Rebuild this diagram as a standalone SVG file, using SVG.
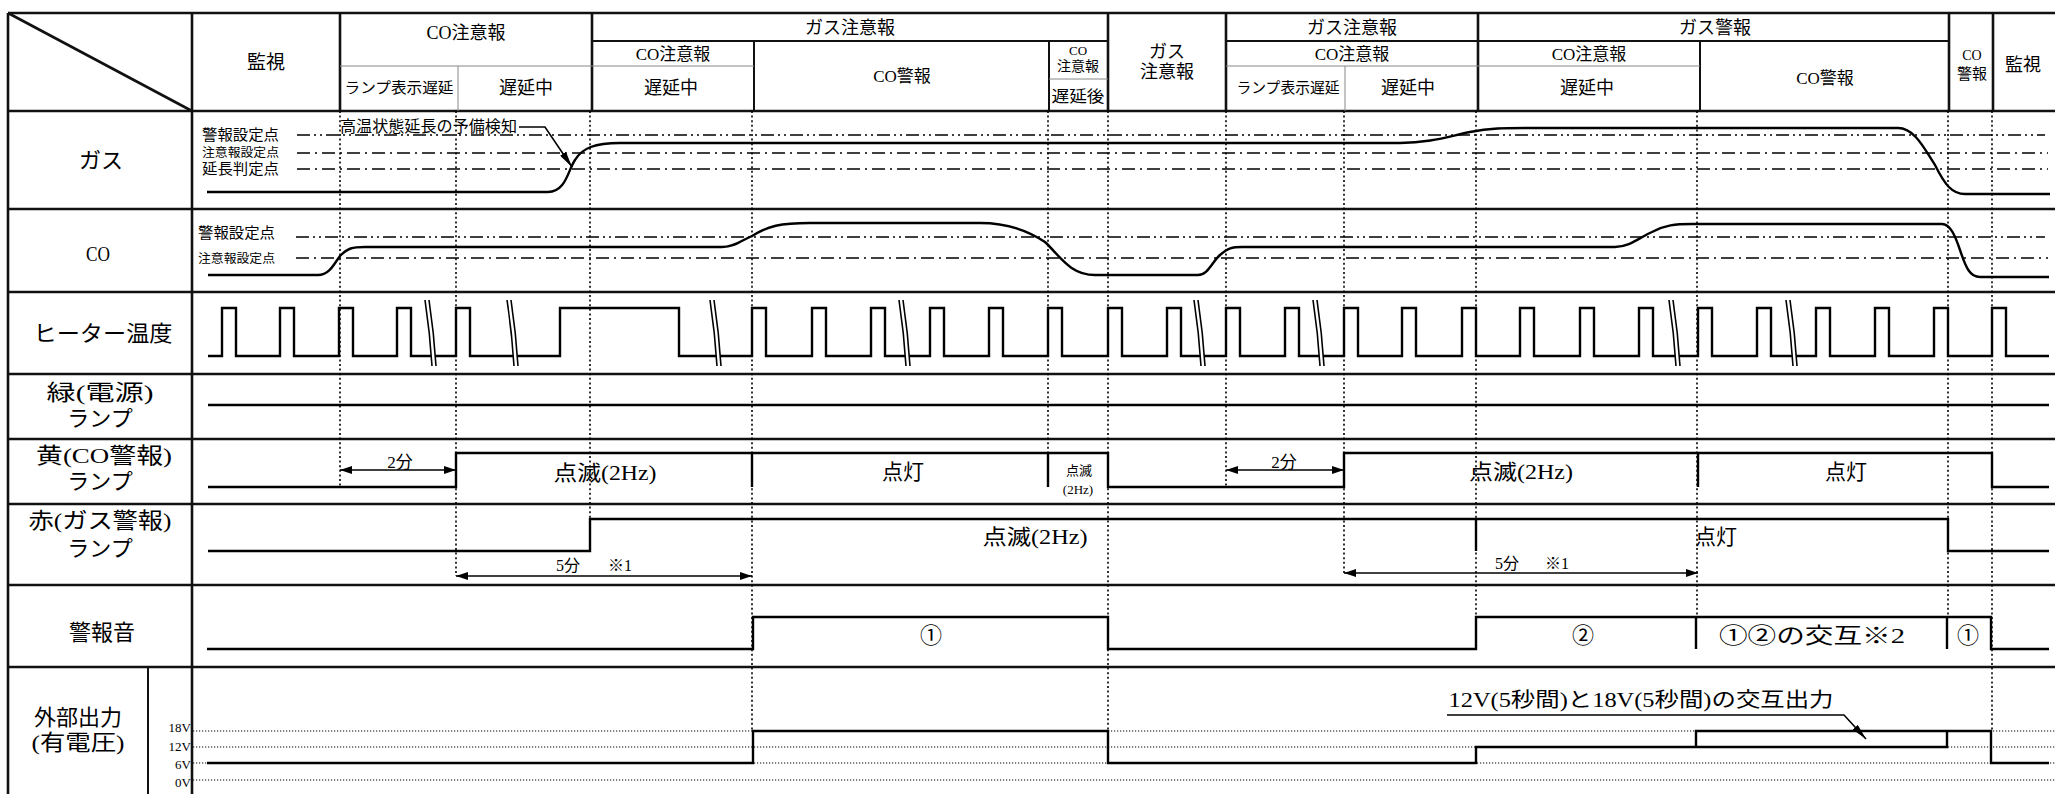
<svg xmlns="http://www.w3.org/2000/svg" width="2055" height="794" viewBox="0 0 2055 794">
<style>
.f{font-family:"Liberation Serif","Noto Sans CJK JP",serif;fill:#000;}
.c{text-anchor:middle;dominant-baseline:central;}
.s{text-anchor:start;dominant-baseline:central;}
.e{text-anchor:end;dominant-baseline:central;}
.b{stroke:#111;stroke-width:2.6;fill:none;}
.m{stroke:#111;stroke-width:2;fill:none;}
.t{stroke:#888;stroke-width:1;fill:none;}
.w{stroke:#000;stroke-width:2.4;fill:none;stroke-linejoin:miter;}
.d{stroke:#000;stroke-width:1.6;stroke-dasharray:2,2.6;fill:none;}
.r1{stroke:#000;stroke-width:1.5;stroke-dasharray:13,4,2,4,2,4;fill:none;}
.r2{stroke:#000;stroke-width:1.5;stroke-dasharray:13,5,2,5;fill:none;}
.v{stroke:#000;stroke-width:1.2;stroke-dasharray:1.2,1.8;fill:none;}
.a{stroke:#000;stroke-width:1.6;fill:none;}
.sl{stroke:#000;stroke-width:1.6;fill:none;}
</style>
<defs>
<marker id="ah" viewBox="0 0 12 8" refX="12" refY="4" markerWidth="12" markerHeight="8" markerUnits="userSpaceOnUse" orient="auto-start-reverse"><path d="M0,0 L12,4 L0,8 z" fill="#000"/></marker>
<marker id="ah2" viewBox="0 0 16 7" refX="16" refY="3.5" markerWidth="16" markerHeight="7" markerUnits="userSpaceOnUse" orient="auto"><path d="M0,0 L16,3.5 L0,7 z" fill="#000"/></marker>
<g id="brk"><path d="M-6,300 Q-1,333 1,366 L5,366 Q3,333 -2,300 Z" fill="#fff" stroke="none"/><path class="sl" d="M-6,300 Q-1,333 1,366 M-2,300 Q3,333 5,366"/></g>
</defs>
<rect width="2055" height="794" fill="#fff"/>

<g id="table">
<path class="b" d="M8,13 H2055 M8,111 H2055 M8,209 H2055 M8,292 H2055 M8,374 H2055 M8,439 H2055 M8,504 H2055 M8,585 H2055 M8,667 H2055"/>
<path class="b" d="M8,13 V794 M192,13 V794 M340,13 V111 M592,13 V111 M1108,13 V111 M1226,13 V111 M1478,13 V111 M1949,13 V111 M1993,13 V111"/>
<path class="m" d="M148,667 V794 M592,41 H1108 M1226,41 H1949 M754,41 V111 M1049,41 V111 M1700,41 V111"/>
<path class="t" d="M340,66 H754 M1226,66 H1700 M458,66 V111 M1345,66 V111 M1049,79 H1108"/>
<path class="b" d="M8,13 L192,111" stroke-width="3"/>
</g>

<g id="header">
<text class="f c" x="266" y="62" font-size="19">監視</text>
<text class="f c" x="466" y="33" font-size="18">CO注意報</text>
<text class="f c" x="399" y="88" font-size="15" textLength="109" lengthAdjust="spacingAndGlyphs">ランプ表示遅延</text>
<text class="f c" x="526" y="88" font-size="18">遅延中</text>
<text class="f c" x="850" y="28" font-size="18">ガス注意報</text>
<text class="f c" x="673" y="54" font-size="17">CO注意報</text>
<text class="f c" x="671" y="88" font-size="18">遅延中</text>
<text class="f c" x="902" y="76" font-size="17">CO警報</text>
<text class="f c" x="1078" y="50" font-size="13">CO</text>
<text class="f c" x="1078" y="66" font-size="14">注意報</text>
<text class="f c" x="1078" y="96" font-size="16" textLength="53" lengthAdjust="spacingAndGlyphs">遅延後</text>
<text class="f c" x="1167" y="52" font-size="18">ガス</text>
<text class="f c" x="1167" y="72" font-size="18">注意報</text>
<text class="f c" x="1352" y="28" font-size="18">ガス注意報</text>
<text class="f c" x="1352" y="54" font-size="17">CO注意報</text>
<text class="f c" x="1288" y="88" font-size="15" textLength="103" lengthAdjust="spacingAndGlyphs">ランプ表示遅延</text>
<text class="f c" x="1408" y="88" font-size="18">遅延中</text>
<text class="f c" x="1715" y="28" font-size="18">ガス警報</text>
<text class="f c" x="1589" y="54" font-size="17">CO注意報</text>
<text class="f c" x="1587" y="88" font-size="18">遅延中</text>
<text class="f c" x="1825" y="78" font-size="17">CO警報</text>
<text class="f c" x="1972" y="55" font-size="14">CO</text>
<text class="f c" x="1972" y="74" font-size="15">警報</text>
<text class="f c" x="2023" y="65" font-size="18">監視</text>
</g>

<g id="row-labels">
<text class="f c" x="101" y="160" font-size="22">ガス</text>
<text class="f c" x="98" y="253" font-size="22" textLength="24" lengthAdjust="spacingAndGlyphs">CO</text>
<text class="f c" x="103" y="333" font-size="22" textLength="139" lengthAdjust="spacingAndGlyphs">ヒーター温度</text>
<text class="f c" x="100" y="392" font-size="22" textLength="107" lengthAdjust="spacingAndGlyphs">緑(電源)</text>
<text class="f c" x="100" y="418" font-size="22">ランプ</text>
<text class="f c" x="104" y="455" font-size="22" textLength="136" lengthAdjust="spacingAndGlyphs">黄(CO警報)</text>
<text class="f c" x="100" y="481" font-size="22">ランプ</text>
<text class="f c" x="100" y="520" font-size="22" textLength="143" lengthAdjust="spacingAndGlyphs">赤(ガス警報)</text>
<text class="f c" x="100" y="548" font-size="22">ランプ</text>
<text class="f c" x="102" y="632" font-size="22">警報音</text>
<text class="f c" x="78" y="717" font-size="22">外部出力</text>
<text class="f c" x="78" y="742" font-size="22" textLength="93" lengthAdjust="spacingAndGlyphs">(有電圧)</text>
<text class="f e" x="191" y="727" font-size="13">18V</text>
<text class="f e" x="191" y="746" font-size="13">12V</text>
<text class="f e" x="191" y="764" font-size="13">6V</text>
<text class="f e" x="191" y="782" font-size="13">0V</text>
</g>

<g id="reference-lines">
<path class="r1" d="M297,135 H2045"/>
<path class="r2" d="M297,153 H2048 M297,169 H2048"/>
<path class="r1" d="M296,237 H2045"/>
<path class="r2" d="M296,258 H2048"/>
<path class="v" d="M193,731 H2055 M193,747 H2055 M193,763 H2055 M193,780 H2055"/>
<text class="f s" x="202" y="135" font-size="15" textLength="77" lengthAdjust="spacingAndGlyphs">警報設定点</text>
<text class="f s" x="202" y="153" font-size="12" textLength="77" lengthAdjust="spacingAndGlyphs">注意報設定点</text>
<text class="f s" x="202" y="169" font-size="15" textLength="77" lengthAdjust="spacingAndGlyphs">延長判定点</text>
<text class="f s" x="198" y="233" font-size="15" textLength="77" lengthAdjust="spacingAndGlyphs">警報設定点</text>
<text class="f s" x="198" y="259" font-size="12" textLength="77" lengthAdjust="spacingAndGlyphs">注意報設定点</text>
</g>

<g id="time-markers">
<path class="d" d="M340,111 V487 M456,111 V576 M590,111 V519 M752,111 V731 M1048,111 V453 M1108,111 V731 M1226,111 V487 M1344,111 V573 M1476,111 V617 M1697,111 V617 M1948,111 V617 M1992,111 V731"/>
</g>

<g id="wave-gas">
<path class="w" d="M207,192 L548,192 C566,192 568,170 575,160 C582,148 595,143 620,143 L1400,143 C1430,143 1450,136 1470,132 C1490,128 1505,128 1525,128 L1898,128 C1915,128 1925,150 1935,165 C1945,185 1952,194 1965,194 L2050,194"/>
</g>

<g id="wave-co">
<path class="w" d="M208,275 H318 C330,275 335,262 340,256 C348,248 352,247 365,247 H722 C735,247 742,240 752,236 C768,226 780,223 810,223 H980 C1010,223 1030,232 1045,242 C1060,256 1070,275 1095,275 H1198 C1208,275 1212,262 1220,255 C1228,248 1232,247 1242,247 H1615 C1630,247 1640,237 1652,232 C1665,225 1675,224 1692,224 H1942 C1950,224 1955,235 1960,250 C1966,268 1970,277 1980,277 H2049"/>
</g>

<g id="wave-heater">
<path class="w" d="M208,356 H222 V308 H236 V356 H280 V308 H294 V356 H339 V308 H353 V356 H397 V308 H411 V356 H456 V308 H470 V356 H560 V308 H679 V356 H752 V308 H766 V356 H812 V308 H826 V356 H871 V308 H885 V356 H930 V308 H944 V356 H989 V308 H1003 V356 H1048 V308 H1062 V356 H1108 V308 H1122 V356 H1167 V308 H1181 V356 H1226 V308 H1240 V356 H1285 V308 H1299 V356 H1344 V308 H1358 V356 H1402 V308 H1416 V356 H1462 V308 H1476 V356 H1520 V308 H1534 V356 H1580 V308 H1594 V356 H1639 V308 H1653 V356 H1698 V308 H1712 V356 H1757 V308 H1771 V356 H1816 V308 H1830 V356 H1875 V308 H1889 V356 H1934 V308 H1948 V356 H1992 V308 H2006 V356 H2049"/>
<use href="#brk" x="431"/><use href="#brk" x="513"/><use href="#brk" x="716"/><use href="#brk" x="905"/>
<use href="#brk" x="1200"/><use href="#brk" x="1319"/><use href="#brk" x="1675"/><use href="#brk" x="1792"/>
</g>

<g id="wave-green">
<path class="w" d="M208,405 H2049"/>
</g>

<g id="wave-yellow">
<path class="w" d="M208,487 H456 V453 H1108 V487 H1344 V453 H1992 V487 H2049"/>
<path class="w" d="M752,453 V487 M1048,453 V487 M1698,453 V487"/>
<text class="f c" x="400" y="462" font-size="17">2分</text>
<text class="f c" x="605" y="473" font-size="21" textLength="103" lengthAdjust="spacingAndGlyphs">点滅(2Hz)</text>
<text class="f c" x="903" y="472" font-size="21">点灯</text>
<text class="f c" x="1079" y="470" font-size="13">点滅</text>
<text class="f c" x="1078" y="489" font-size="13">(2Hz)</text>
<text class="f c" x="1284" y="462" font-size="17">2分</text>
<text class="f c" x="1521" y="472" font-size="21" textLength="104" lengthAdjust="spacingAndGlyphs">点滅(2Hz)</text>
<text class="f c" x="1846" y="472" font-size="21">点灯</text>
</g>

<g id="wave-red">
<path class="w" d="M208,551 H590 V519 H1948 V551 H2049"/>
<path class="w" d="M1476,519 V551"/>
<text class="f c" x="1035" y="537" font-size="21" textLength="105" lengthAdjust="spacingAndGlyphs">点滅(2Hz)</text>
<text class="f c" x="1716" y="537" font-size="21">点灯</text>
<text class="f s" y="565" font-size="16"><tspan x="556">5分</tspan><tspan x="608">※1</tspan></text>
<text class="f s" y="563" font-size="16"><tspan x="1495">5分</tspan><tspan x="1545">※1</tspan></text>
</g>

<g id="wave-sound">
<path class="w" d="M207,649 H753 V617 H1108 V649 H1476 V617 H1991 V649 H2049"/>
<path class="w" d="M1696,617 V649 M1947,617 V649"/>
<text class="f c" x="931" y="635" font-size="22">①</text>
<text class="f c" x="1583" y="635" font-size="22">②</text>
<text class="f c" x="1812" y="635" font-size="22" textLength="186" lengthAdjust="spacingAndGlyphs">①②の交互※2</text>
<text class="f c" x="1968" y="635" font-size="22">①</text>
</g>

<g id="wave-output">
<path class="w" d="M207,763 H753 V731 H1108 V763 H1476 V747 H1947 V731"/>
<path class="w" d="M1696,747 V731 H1991 V763 H2049"/>
<text class="f c" x="1641" y="700" font-size="20" textLength="385" lengthAdjust="spacingAndGlyphs">12V(5秒間)と18V(5秒間)の交互出力</text>
</g>

<g id="connectors">
<path class="a" d="M340,470 H456" marker-start="url(#ah)" marker-end="url(#ah)"/>
<path class="a" d="M1226,470 H1344" marker-start="url(#ah)" marker-end="url(#ah)"/>
<path class="a" d="M456,576 H752" marker-start="url(#ah)" marker-end="url(#ah)"/>
<path class="a" d="M1344,573 H1698" marker-start="url(#ah)" marker-end="url(#ah)"/>
<path class="a" d="M519,127 H545 L572,167" marker-end="url(#ah2)"/>
<path class="a" d="M1447,715 H1844 L1866,739" marker-end="url(#ah2)"/>
<text class="f s" x="340" y="126" font-size="16" textLength="177" lengthAdjust="spacingAndGlyphs">高温状態延長の予備検知</text>
</g>
</svg>
